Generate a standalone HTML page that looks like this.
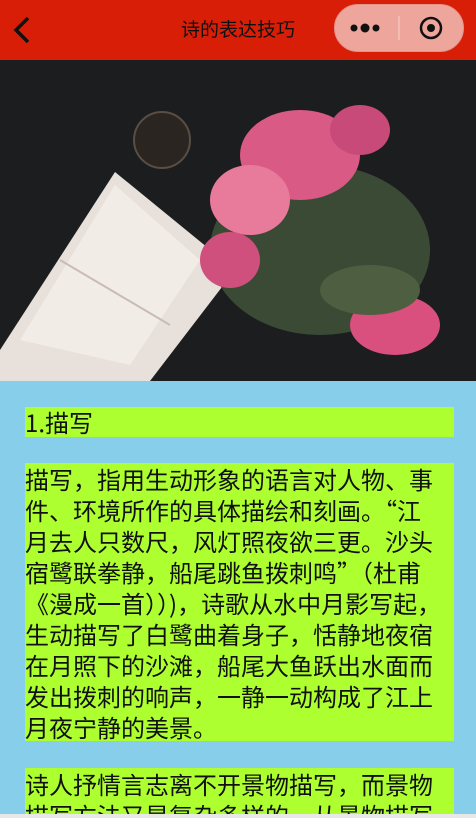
<!DOCTYPE html>
<html><head><meta charset="utf-8">
<style>
*{margin:0;padding:0;box-sizing:border-box}
html,body{width:476px;height:818px;overflow:hidden;background:#87ceeb;font-family:"Liberation Sans","Noto Sans CJK SC",sans-serif}
.hdr{position:absolute;left:0;top:0;width:476px;height:60px;background:#d81e06}
.title{position:absolute;left:0;width:476px;top:15px;text-align:center;font-size:19px;color:#111;line-height:28px;font-family:"Noto Sans CJK SC",sans-serif}
.back{position:absolute;left:12px;top:16px}
.capsule{position:absolute;left:334px;top:4px;width:130px;height:48px;border-radius:24px;background:#eea59c;border:1px solid #e2938a}
.photo{position:absolute;left:0;top:60px;width:476px;height:321px}
.blk{position:absolute;left:25px;width:429px;background:#adff2f;color:#111;font-size:24px;line-height:31px;overflow:hidden;white-space:nowrap;font-family:"Noto Sans CJK SC",sans-serif}
</style></head><body>
<div class="hdr">
  <svg class="back" width="20" height="28" viewBox="0 0 20 28"><path d="M16 2 L4 14 L16 26" stroke="#111" stroke-width="3.5" fill="none"/></svg>
  <div class="title">诗的表达技巧</div>
  <div class="capsule">
    <svg width="130" height="48" viewBox="0 0 130 48" style="position:absolute;left:-1px;top:-1px">
      <g><circle cx="20" cy="24" r="3.5" fill="#111"/><circle cx="31" cy="24" r="4.5" fill="#111"/><circle cx="42" cy="24" r="3.5" fill="#111"/></g>
      <line x1="65" y1="12" x2="65" y2="36" stroke="#f3c3bd" stroke-width="1.5"/>
      <g><circle cx="97" cy="24" r="10" stroke="#111" stroke-width="2.5" fill="none"/><circle cx="97" cy="24" r="4" fill="#111"/></g>
    </svg>
  </div>
</div>
<svg class="photo" viewBox="0 0 476 321">
  <rect width="476" height="321" fill="#1b1d1f"/>
  <polygon points="0,290 115,112 235,210 150,321 0,321" fill="#e8e0da"/>
  <polygon points="20,280 115,125 200,200 130,305" fill="#f2ece6"/>
  <line x1="60" y1="200" x2="170" y2="265" stroke="#c9bdb3" stroke-width="2"/>
  <circle cx="162" cy="80" r="28" fill="#2a2520" stroke="#5a4e44" stroke-width="2"/>
  <ellipse cx="320" cy="190" rx="110" ry="85" fill="#3b4a35"/>
  <ellipse cx="300" cy="95" rx="60" ry="45" fill="#d85a85"/>
  <ellipse cx="250" cy="140" rx="40" ry="35" fill="#e87a9c"/>
  <ellipse cx="230" cy="200" rx="30" ry="28" fill="#cf4f7d"/>
  <ellipse cx="360" cy="70" rx="30" ry="25" fill="#c84a78"/>
  <ellipse cx="395" cy="265" rx="45" ry="30" fill="#d94f7e"/>
  <ellipse cx="370" cy="230" rx="50" ry="25" fill="#4e5e40"/>
</svg>
<div class="blk" style="top:407px;height:30px;line-height:30px">1.描写</div>
<div class="blk" style="top:463px;height:278px">描写，指用生动形象的语言对人物、事<br>件、环境所作的具体描绘和刻画。“江<br>月去人只数尺，风灯照夜欲三更。沙头<br>宿鹭联拳静，船尾跳鱼拨刺鸣”（杜甫<br>《漫成一首））)，诗歌从水中月影写起，<br>生动描写了白鹭曲着身子，恬静地夜宿<br>在月照下的沙滩，船尾大鱼跃出水面而<br>发出拨刺的响声，一静一动构成了江上<br>月夜宁静的美景。</div>
<div class="blk" style="top:768px;height:46px">诗人抒情言志离不开景物描写，而景物<br>描写方法又是复杂多样的，从景物描写</div>
<div style="position:absolute;left:0;top:814px;width:476px;height:4px;background:#e8e8e8"></div>
</body></html>
